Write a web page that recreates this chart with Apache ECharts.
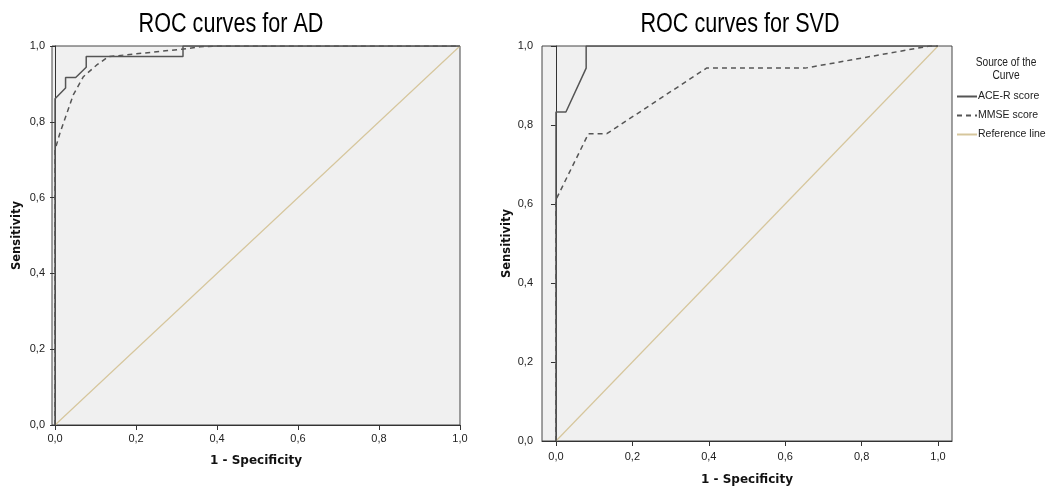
<!DOCTYPE html>
<html>
<head>
<meta charset="utf-8">
<script src="https://cdn.jsdelivr.net/npm/echarts@6/dist/echarts.min.js"></script>
<style>
html,body{margin:0;padding:0;background:#fff;}
#chart{width:1048px;height:491px;}
</style>
</head>
<body>
<div id="chart"></div>
<script>
// ---- data (1 - specificity, sensitivity) ----
const tickValues = [0, 0.2, 0.4, 0.6, 0.8, 1.0];
const seriesNames = ['ACE-R score', 'MMSE score', 'Reference line'];
const titles = ['ROC curves for AD', 'ROC curves for SVD'];

const adAceR = [[0,0],[0,0.861],[0.026,0.889],[0.026,0.917],[0.051,0.917],[0.077,0.944],[0.077,0.972],[0.316,0.972],[0.316,1],[1,1]];
const adMmse = [[0,0],[0,0.726],[0.012,0.77],[0.029,0.822],[0.045,0.871],[0.07,0.919],[0.103,0.95],[0.132,0.972],[0.235,0.983],[0.317,0.992],[0.358,0.998],[0.4,1],[1,1]];
const svdAceR = [[0,0],[0,0.833],[0.026,0.833],[0.079,0.944],[0.079,1],[1,1]];
const svdMmse = [[0,0],[0,0.611],[0.085,0.778],[0.133,0.778],[0.394,0.944],[0.652,0.944],[0.978,1],[1,1]];
const refLine = [[0,0],[1,1]];

const fmt = v => v.toFixed(1).replace('.', ',');
const curveColor = '#555555';
const refColor = '#d6c69c';
const sans = '"Liberation Sans", Arial, sans-serif';

function xAxis(gridIndex, min, max, nameGap, labelMargin) {
  return {
    type: 'value', gridIndex, min, max,
    name: '1 - Specificity', nameLocation: 'middle', nameGap,
    nameTextStyle: {fontFamily: 'DejaVu Sans', fontWeight: 'bold', fontSize: 12, color: '#111'},
    axisLine: {show: true, onZero: false, lineStyle: {color: '#333', width: 1}},
    axisTick: {show: true, length: 5, customValues: tickValues, lineStyle: {color: '#333'}},
    axisLabel: {customValues: tickValues, formatter: fmt, fontFamily: sans, fontSize: 11, color: '#222', margin: labelMargin},
    splitLine: {show: false}
  };
}
function yAxis(gridIndex, nameGap, labelMargin) {
  return {
    type: 'value', gridIndex, min: 0, max: 1, interval: 0.2,
    name: 'Sensitivity', nameLocation: 'middle', nameGap, nameRotate: 90,
    nameTextStyle: {fontFamily: 'DejaVu Sans', fontWeight: 'bold', fontSize: 11.5, color: '#111'},
    axisLine: {show: true, lineStyle: {color: '#333', width: 1}},
    axisTick: {show: true, length: 5, lineStyle: {color: '#333'}},
    axisLabel: {formatter: fmt, fontFamily: sans, fontSize: 11, color: '#222', margin: labelMargin},
    splitLine: {show: false}
  };
}
function line(name, data, xi, dashed, color, width) {
  return {
    name, type: 'line', xAxisIndex: xi, yAxisIndex: xi, data,
    symbol: 'none', showSymbol: false, animation: false, silent: true,
    lineStyle: {color, width, type: dashed ? [5, 4] : 'solid'},
    itemStyle: {color}
  };
}
function titleText(text, x) {
  return {
    type: 'text', x, y: 25, scaleX: 0.8, silent: true,
    style: {text, font: '27px "Liberation Sans", Arial, sans-serif', fill: '#000',
            align: 'center', verticalAlign: 'middle'}
  };
}

const chart = echarts.init(document.getElementById('chart'), null, {renderer: 'canvas'});
chart.setOption({
  animation: false,
  backgroundColor: '#ffffff',
  graphic: [
    titleText(titles[0], 231),
    titleText(titles[1], 740),
    {type: 'text', x: 1006, y: 56, scaleX: 0.85, silent: true,
     style: {text: 'Source of the\nCurve', font: '12px "Liberation Sans", Arial, sans-serif',
             lineHeight: 13, fill: '#222', align: 'center', verticalAlign: 'top'}}
  ],
  legend: {
    orient: 'vertical', left: 951, top: 86,
    itemWidth: 20, itemHeight: 10, itemGap: 8,
    data: seriesNames,
    itemStyle: {opacity: 0},
    textStyle: {fontFamily: sans, fontSize: 10.5, color: '#222', padding: [0,0,0,-4]},
    selectedMode: false
  },
  grid: [
    {left: 52, right: 588, top: 46, bottom: 66, show: true, backgroundColor: '#f0f0f0', borderColor: '#444', borderWidth: 1, containLabel: false},
    {left: 542, right: 96, top: 46, bottom: 48, show: true, backgroundColor: '#f0f0f0', borderColor: '#444', borderWidth: 1, containLabel: false}
  ],
  xAxis: [xAxis(0, -0.0075, 1, 30, 8), xAxis(1, -0.0366, 1.0366, 33, 10)],
  yAxis: [yAxis(0, 29, 7), yAxis(1, 29, 9)],
  series: [
    line(seriesNames[2], refLine, 0, false, refColor, 1.2),
    line(seriesNames[1], adMmse, 0, true, curveColor, 1.5),
    line(seriesNames[0], adAceR, 0, false, curveColor, 1.5),
    line(seriesNames[2], refLine, 1, false, refColor, 1.2),
    line(seriesNames[1], svdMmse, 1, true, curveColor, 1.5),
    line(seriesNames[0], svdAceR, 1, false, curveColor, 1.5)
  ]
});
</script>
</body>
</html>
